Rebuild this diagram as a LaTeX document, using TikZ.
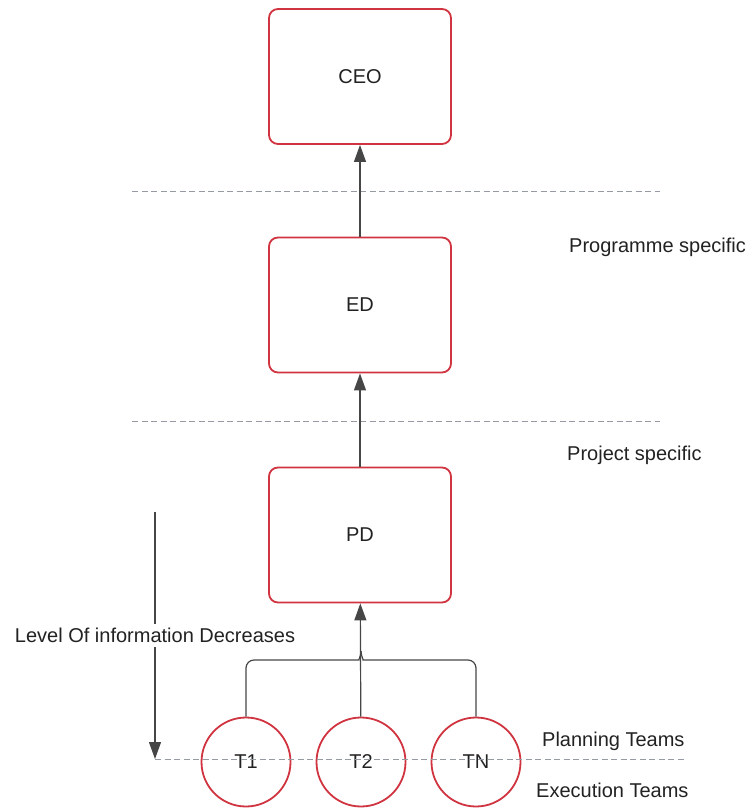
\documentclass[tikz,border=0pt]{standalone}
\usepackage{fontspec}
\setmainfont{Liberation Sans}
\usetikzlibrary{arrows.meta}
\definecolor{boxred}{RGB}{208,52,64}
\definecolor{linegray}{RGB}{70,70,70}
\definecolor{dashgray}{RGB}{150,154,162}
\definecolor{textgray}{RGB}{34,34,34}
\newcommand{\labfont}{\fontsize{20}{24}\selectfont}

\begin{document}
\begin{tikzpicture}[x=1pt,y=-1pt,
  box/.style={draw=boxred,line width=1.8pt,rounded corners=9pt,minimum width=182pt,minimum height=135pt,inner sep=0pt,font=\labfont,text=textgray},
  team/.style={circle,draw=boxred,line width=1.8pt,minimum size=89pt,inner sep=0pt,font=\labfont,text=textgray},
  ln/.style={draw=linegray,line width=1.2pt},
  tip/.style={-{Triangle[length=17pt,width=12pt]}},
  lvl/.style={draw=dashgray,line width=0.9pt,dash pattern=on 6pt off 3.5pt},
  lab/.style={font=\labfont,text=textgray,inner sep=0pt}]
  \useasboundingbox (0,0) rectangle (751,812);
  % chain of boxes
  \node[box] (ceo) at (360,76.5) {CEO};
  \node[box] (ed) at (360,305) {ED};
  \node[box] (pd) at (360,535) {PD};
  % teams on the planning/execution border
  \foreach \name/\xx/\txt in {t1/246/T1,t2/361/T2,tn/476/TN}
    \node[team] (\name) at (\xx,762) {\txt};
  % level separators
  \draw[lvl] (132,191) -- (660,191);
  \draw[lvl] (132,421) -- (660,421);
  \coordinate (lvltop) at (155,512);
  \coordinate (lvlend) at (155,759);
  \draw[lvl] (lvlend) -- (684,759);
  \draw[ln,tip] (lvltop) -- node[lab,fill=white,inner sep=4pt] {Level Of information Decreases} (lvlend);
  % reporting arrows
  \draw[ln,tip] (ed) -- (ceo);
  \draw[ln,tip] (pd) -- (ed);
  \draw[ln,tip] (t2) -- (pd);
  \coordinate (join) at (361,651);
  \draw[ln,rounded corners=8pt] (t1.north) |- (351,660) .. controls (358,660) and (361,657) .. (join);
  \draw[ln,rounded corners=8pt] (tn.north) |- (371,660) .. controls (364,660) and (361,657) .. (join);
  % level names
  \node[lab,anchor=base west] (prog) at (569,252) {Programme specific};
  \node[lab,anchor=base west] (proj) at (567,460) {Project specific};
  \node[lab,anchor=base west] (plan) at (542,746) {Planning Teams};
  \node[lab,anchor=base west] (exec) at (536,797) {Execution Teams};
\end{tikzpicture}
\end{document}
